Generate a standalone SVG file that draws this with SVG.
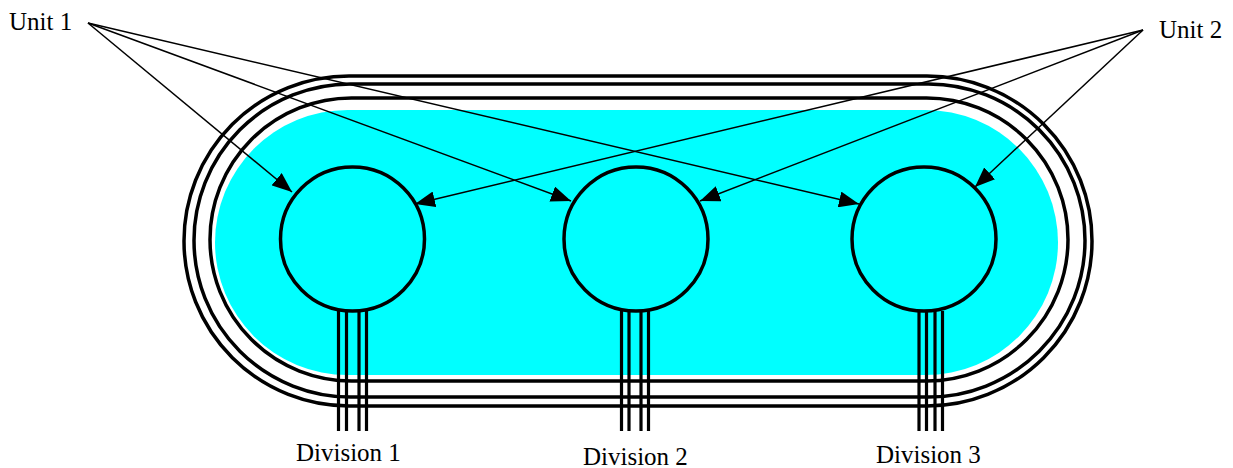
<svg xmlns="http://www.w3.org/2000/svg" width="1233" height="468" viewBox="0 0 1233 468">
<style>
.ring{fill:none;stroke:#000;stroke-width:3.5}
.div{fill:#00FFFF;stroke:#000;stroke-width:3.5}
.bus{stroke:#000;stroke-width:3.2}
.arr{stroke:#000;stroke-width:1.5;fill:none;marker-end:url(#ah)}
.lbl{font-family:"Liberation Serif","Times New Roman",serif;font-size:25px;fill:#000}
</style>
<defs>
<marker id="ah" markerUnits="userSpaceOnUse" markerWidth="20" markerHeight="16" refX="20" refY="8" orient="auto" viewBox="0 0 20 16">
<path d="M0,0 L20,8 L0,16 z" fill="#000"/>
</marker>
</defs>
<rect width="1233" height="468" fill="#fff"/>
<g id="containment">
<rect x="215" y="110" width="843" height="265" rx="132.5" ry="132.5" fill="#00FFFF"/>
<rect class="ring" x="184" y="76" width="908" height="330" rx="165" ry="165"/>
<rect class="ring" x="194" y="84" width="891" height="313" rx="156.5" ry="156.5"/>
<rect class="ring" x="210" y="98" width="858" height="283" rx="141.5" ry="141.5"/>
</g>
<g id="division1">
<circle class="div" cx="352.5" cy="239" r="72"/>
<line class="bus" x1="338.5" y1="311" x2="338.5" y2="431"/>
<line class="bus" x1="346.5" y1="311" x2="346.5" y2="431"/>
<line class="bus" x1="359" y1="311" x2="359" y2="431"/>
<line class="bus" x1="366.5" y1="311" x2="366.5" y2="431"/>
<text class="lbl" x="296" y="461">Division 1</text>
</g>
<g id="division2">
<circle class="div" cx="636" cy="239" r="72"/>
<line class="bus" x1="621.5" y1="311" x2="621.5" y2="431"/>
<line class="bus" x1="629" y1="311" x2="629" y2="431"/>
<line class="bus" x1="641" y1="311" x2="641" y2="431"/>
<line class="bus" x1="648.5" y1="311" x2="648.5" y2="431"/>
<text class="lbl" x="583" y="465">Division 2</text>
</g>
<g id="division3">
<circle class="div" cx="924" cy="239" r="72"/>
<line class="bus" x1="919" y1="311" x2="919" y2="431"/>
<line class="bus" x1="926.5" y1="311" x2="926.5" y2="431"/>
<line class="bus" x1="935" y1="311" x2="935" y2="431"/>
<line class="bus" x1="942.5" y1="311" x2="942.5" y2="431"/>
<text class="lbl" x="876" y="463">Division 3</text>
</g>
<g id="unit1">
<text class="lbl" x="9" y="30">Unit 1</text>
</g>
<g id="unit2">
<text class="lbl" x="1159" y="38">Unit 2</text>
</g>
<g id="connectors">
<line class="arr" x1="88" y1="23" x2="292" y2="192"/>
<line class="arr" x1="88" y1="23" x2="571" y2="201"/>
<line class="arr" x1="88" y1="23" x2="859" y2="204"/>
<line class="arr" x1="1143" y1="30" x2="415" y2="204"/>
<line class="arr" x1="1143" y1="30" x2="700" y2="201"/>
<line class="arr" x1="1143" y1="30" x2="975" y2="187"/>
</g>
</svg>
